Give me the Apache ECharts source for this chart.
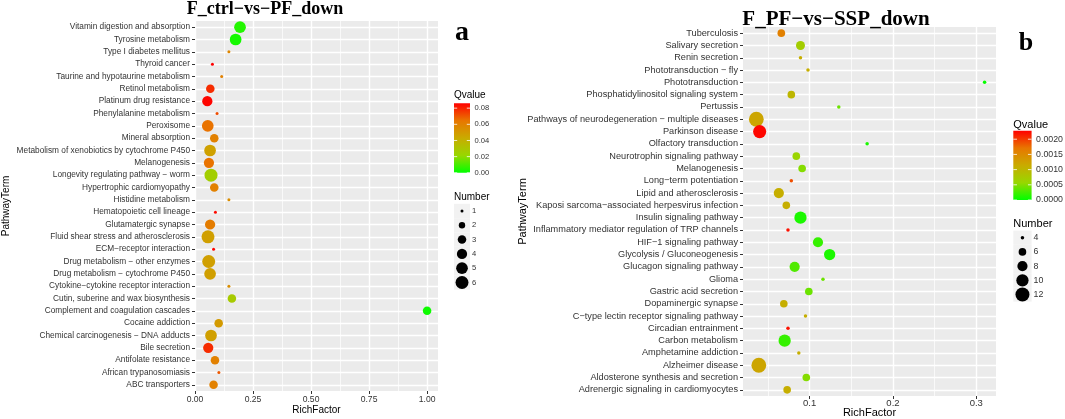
<!DOCTYPE html>
<html>
<head>
<meta charset="utf-8">
<script src="https://cdn.jsdelivr.net/npm/echarts@6/dist/echarts.min.js"></script>
<style>
  html, body { margin: 0; background: #fff; }
  #chart { width: 1065px; height: 419px; }
</style>
</head>
<body>
<div id="chart"></div>
<script>
// ---- panel a: F_ctrl-vs-PF_down (listed top to bottom) ----
const termsA = [
  "Vitamin digestion and absorption", "Tyrosine metabolism", "Type I diabetes mellitus",
  "Thyroid cancer", "Taurine and hypotaurine metabolism", "Retinol metabolism",
  "Platinum drug resistance", "Phenylalanine metabolism", "Peroxisome", "Mineral absorption",
  "Metabolism of xenobiotics by cytochrome P450", "Melanogenesis",
  "Longevity regulating pathway \u2212 worm", "Hypertrophic cardiomyopathy", "Histidine metabolism",
  "Hematopoietic cell lineage", "Glutamatergic synapse", "Fluid shear stress and atherosclerosis",
  "ECM\u2212receptor interaction", "Drug metabolism \u2212 other enzymes",
  "Drug metabolism \u2212 cytochrome P450", "Cytokine\u2212cytokine receptor interaction",
  "Cutin, suberine and wax biosynthesis", "Complement and coagulation cascades",
  "Cocaine addiction", "Chemical carcinogenesis \u2212 DNA adducts", "Bile secretion",
  "Antifolate resistance", "African trypanosomiasis", "ABC transporters"
];
const richA = [0.194, 0.175, 0.146, 0.075, 0.115, 0.066, 0.053, 0.095, 0.055, 0.083,
  0.065, 0.06, 0.069, 0.083, 0.146, 0.088, 0.065, 0.056, 0.08, 0.059,
  0.065, 0.146, 0.159, 1.0, 0.102, 0.069, 0.057, 0.086, 0.103, 0.08];
const qA = [0.005, 0.003, 0.058, 0.086, 0.06, 0.078, 0.085, 0.072, 0.065, 0.06,
  0.047, 0.065, 0.026, 0.06, 0.055, 0.084, 0.062, 0.048, 0.085, 0.048,
  0.048, 0.055, 0.028, 0.002, 0.05, 0.048, 0.078, 0.06, 0.07, 0.06];
const countA = [5, 5, 1, 1, 1, 3, 4, 1, 5, 3, 5, 4, 6, 3, 1, 1, 4, 6, 1, 6,
  5, 1, 3, 3, 3, 5, 4, 3, 1, 3];
const xTicksA = [0, 0.25, 0.5, 0.75, 1];
const xMinorA = [0.125, 0.375, 0.625, 0.875];
const qTicksA = [0, 0.02, 0.04, 0.06, 0.08];
const countTicksA = [1, 2, 3, 4, 5, 6];

// ---- panel b: F_PF-vs-SSP_down ----
const termsB = [
  "Tuberculosis", "Salivary secretion", "Renin secretion", "Phototransduction \u2212 fly",
  "Phototransduction", "Phosphatidylinositol signaling system", "Pertussis",
  "Pathways of neurodegeneration \u2212 multiple diseases", "Parkinson disease",
  "Olfactory transduction", "Neurotrophin signaling pathway", "Melanogenesis",
  "Long\u2212term potentiation", "Lipid and atherosclerosis",
  "Kaposi sarcoma\u2212associated herpesvirus infection", "Insulin signaling pathway",
  "Inflammatory mediator regulation of TRP channels", "HIF\u22121 signaling pathway",
  "Glycolysis / Gluconeogenesis", "Glucagon signaling pathway", "Glioma",
  "Gastric acid secretion", "Dopaminergic synapse", "C\u2212type lectin receptor signaling pathway",
  "Circadian entrainment", "Carbon metabolism", "Amphetamine addiction", "Alzheimer disease",
  "Aldosterone synthesis and secretion", "Adrenergic signaling in cardiomyocytes"
];
const richB = [0.066, 0.089, 0.089, 0.098, 0.31, 0.078, 0.135, 0.036, 0.040, 0.169,
  0.084, 0.091, 0.078, 0.063, 0.072, 0.089, 0.074, 0.110, 0.124, 0.082,
  0.116, 0.099, 0.069, 0.095, 0.074, 0.070, 0.087, 0.039, 0.096, 0.073];
const qB = [0.0016, 0.0007, 0.0011, 0.0011, 0.00002, 0.001, 0.0004, 0.0012, 0.00225, 0.0001,
  0.0006, 0.0005, 0.0019, 0.0011, 0.0011, 0.0001, 0.0022, 0.0002, 0.0001, 0.0003,
  0.0004, 0.0004, 0.0011, 0.0011, 0.0022, 0.0002, 0.0011, 0.0012, 0.0005, 0.0011];
const countB = [6, 7, 4, 4, 4, 6, 4, 13, 11, 4, 6, 6, 4, 8, 6, 10, 4, 8, 9, 8,
  4, 6, 6, 4, 4, 10, 4, 13, 6, 6];
const xTicksB = [0.1, 0.2, 0.3];
const xMinorB = [0.05, 0.15, 0.25];
const qTicksB = [0, 0.0005, 0.001, 0.0015, 0.002];
const countTicksB = [4, 6, 8, 10, 12];

// green -> red, roughly the Lab blend ggplot uses
const qColors = ["#00FF00", "#98D700", "#C9AB00", "#E87600", "#FF0000"];

const SANS = '"Liberation Sans", Arial, sans-serif';
const SERIF = '"Liberation Serif", "Times New Roman", serif';
const TEXT = "#333333";

// point area grows linearly with gene count
function sizeScale(n0, d0, n1, d1) {
  return (n) => Math.sqrt(d0 * d0 + (d1 * d1 - d0 * d0) * (n - n0) / (n1 - n0));
}

const panels = [
  {
    terms: termsA, rich: richA, q: qA, count: countA,
    size: sizeScale(1, 3, 6, 13),
    grid: { left: 195, top: 21, width: 243, height: 370 },
    xMin: 0, xMax: 1.047, ticks: xTicksA, minor: xMinorA, digits: 2,
    qMax: 0.086, font: 8.3, tickFont: 8.6, nameFont: 10,
    yNameGap: 184, xNameGap: 14, xLabelMargin: 4,
    legend: {
      x: 454, titleY: 95, barTop: 103.3, barW: 16, barH: 69.5,
      numberY: 197, keyY0: 211, keyStep: 14.3,
      titleFont: 10, labelFont: 7.6, qTicks: qTicksA, qDigits: 2, countTicks: countTicksA,
    },
  },
  {
    terms: termsB, rich: richB, q: qB, count: countB,
    size: sizeScale(4, 3.5, 12, 14),
    grid: { left: 743, top: 27, width: 253, height: 369 },
    xMin: 0.02, xMax: 0.3237, ticks: xTicksB, minor: xMinorB, digits: 1,
    qMax: 0.00228, font: 9.2, tickFont: 9.5, nameFont: 11,
    yNameGap: 215, xNameGap: 11, xLabelMargin: 2,
    legend: {
      x: 1013.3, titleY: 125, barTop: 130.7, barW: 18.3, barH: 69.3,
      numberY: 224.3, keyY0: 237.7, keyStep: 14.2,
      titleFont: 11, labelFont: 8.8, qTicks: qTicksB, qDigits: 4, countTicks: countTicksB,
    },
  },
];

const grids = [];
const xAxes = [];
const yAxes = [];
const series = [];
const visualMaps = [];
const graphics = [];

panels.forEach((p, i) => {
  grids.push({
    ...p.grid,
    show: true,
    backgroundColor: "#EBEBEB",
    borderWidth: 0,
    outerBoundsMode: "none",
  });

  // thin minor lines
  xAxes.push({
    type: "value",
    gridIndex: i,
    position: "bottom",
    min: p.xMin,
    max: p.xMax,
    axisLine: { show: false },
    axisTick: { show: false, customValues: p.minor },
    axisLabel: { show: false },
    splitLine: { show: true, lineStyle: { color: "#FFFFFF", width: 0.7 } },
  });
  // major lines, ticks and labels
  xAxes.push({
    type: "value",
    gridIndex: i,
    position: "bottom",
    min: p.xMin,
    max: p.xMax,
    name: "RichFactor",
    nameLocation: "middle",
    nameGap: p.xNameGap,
    nameMoveOverlap: false,
    nameTextStyle: { fontFamily: SANS, fontSize: p.nameFont, color: "#000" },
    axisLine: { show: false },
    axisTick: { show: true, length: 3, customValues: p.ticks, lineStyle: { color: TEXT } },
    axisLabel: {
      customValues: p.ticks,
      margin: p.xLabelMargin,
      fontFamily: SANS,
      fontSize: p.tickFont,
      color: TEXT,
      formatter: (v) => Number(v).toFixed(p.digits),
    },
    splitLine: { show: true, lineStyle: { color: "#FFFFFF", width: 1.4 } },
  });

  yAxes.push({
    type: "category",
    gridIndex: i,
    position: "left",
    data: p.terms,
    inverse: true,
    name: "PathwayTerm",
    nameLocation: "middle",
    nameGap: p.yNameGap,
    nameMoveOverlap: false,
    nameTextStyle: { fontFamily: SANS, fontSize: p.nameFont, color: "#000" },
    axisLine: { show: false },
    axisTick: { show: true, alignWithLabel: true, length: 3, lineStyle: { color: TEXT } },
    axisLabel: {
      interval: 0,
      margin: 5,
      fontFamily: SANS,
      fontSize: p.font,
      color: TEXT,
    },
    splitLine: {
      show: true,
      alignWithLabel: true,
      interval: 0,
      lineStyle: { color: "#FFFFFF", width: 1.4 },
    },
  });

  series.push({
    type: "scatter",
    xAxisIndex: i * 2 + 1,
    yAxisIndex: i,
    data: p.terms.map((t, k) => [p.rich[k], t, p.q[k], p.count[k]]),
    encode: { x: 0, y: 1 },
    symbol: "circle",
    symbolSize: (v) => p.size(v[3]),
    itemStyle: { opacity: 1 },
    emphasis: { disabled: true },
  });

  visualMaps.push({
    type: "continuous",
    show: false,
    seriesIndex: i,
    dimension: 2,
    min: 0,
    max: p.qMax,
    inRange: { color: qColors },
  });

  // ggplot-style legends: colour bar + size keys
  const L = p.legend;
  graphics.push({
    type: "text",
    x: L.x,
    y: L.titleY,
    style: { text: "Qvalue", font: `${L.titleFont}px ${SANS}`, fill: "#000", verticalAlign: "middle" },
  });
  graphics.push({
    type: "rect",
    shape: { x: L.x, y: L.barTop, width: L.barW, height: L.barH },
    style: {
      fill: new echarts.graphic.LinearGradient(0, 0, 0, 1,
        qColors.slice().reverse().map((c, k) => ({ offset: k / (qColors.length - 1), color: c }))),
    },
  });
  L.qTicks.forEach((v) => {
    const y = L.barTop + L.barH * (1 - v / p.qMax);
    const tw = L.barW / 5;
    graphics.push({
      type: "line",
      shape: { x1: L.x, y1: y, x2: L.x + tw, y2: y },
      style: { stroke: "#FFFFFF", lineWidth: 0.8 },
    });
    graphics.push({
      type: "line",
      shape: { x1: L.x + L.barW - tw, y1: y, x2: L.x + L.barW, y2: y },
      style: { stroke: "#FFFFFF", lineWidth: 0.8 },
    });
    graphics.push({
      type: "text",
      x: L.x + L.barW + 4.5,
      y: y,
      style: { text: v.toFixed(L.qDigits), font: `${L.labelFont}px ${SANS}`, fill: TEXT, verticalAlign: "middle" },
    });
  });
  graphics.push({
    type: "text",
    x: L.x,
    y: L.numberY,
    style: { text: "Number", font: `${L.titleFont}px ${SANS}`, fill: "#000", verticalAlign: "middle" },
  });
  L.countTicks.forEach((n, k) => {
    const cy = L.keyY0 + k * L.keyStep;
    graphics.push({
      type: "rect",
      shape: { x: L.x, y: cy - L.keyStep / 2, width: L.barW, height: L.keyStep },
      style: { fill: "#F2F2F2" },
    });
  });
  L.countTicks.forEach((n, k) => {
    const cy = L.keyY0 + k * L.keyStep;
    graphics.push({
      type: "circle",
      shape: { cx: L.x + L.barW / 2, cy: cy, r: p.size(n) / 2 },
      style: { fill: "#000" },
    });
    graphics.push({
      type: "text",
      x: L.x + L.barW + 2,
      y: cy,
      style: { text: String(n), font: `${L.labelFont}px ${SANS}`, fill: TEXT, verticalAlign: "middle" },
    });
  });
});

const chart = echarts.init(document.getElementById("chart"), null, { renderer: "canvas" });

chart.setOption({
  animation: false,
  backgroundColor: "#FFFFFF",
  title: [
    {
      text: "F_ctrl\u2212vs\u2212PF_down", left: 265, top: 0, textAlign: "center", padding: 0,
      textStyle: { fontFamily: SERIF, fontWeight: "bold", fontSize: 18, color: "#000" },
    },
    {
      text: "F_PF\u2212vs\u2212SSP_down", left: 836, top: 9, textAlign: "center", padding: 0,
      textStyle: { fontFamily: SERIF, fontWeight: "bold", fontSize: 21, color: "#000" },
    },
    {
      text: "a", left: 462, top: 19, textAlign: "center", padding: 0,
      textStyle: { fontFamily: SERIF, fontWeight: "bold", fontSize: 28, color: "#000" },
    },
    {
      text: "b", left: 1026, top: 30, textAlign: "center", padding: 0,
      textStyle: { fontFamily: SERIF, fontWeight: "bold", fontSize: 26, color: "#000" },
    },
  ],
  grid: grids,
  xAxis: xAxes,
  yAxis: yAxes,
  visualMap: visualMaps,
  series: series,
  graphic: graphics,
});
</script>
</body>
</html>
